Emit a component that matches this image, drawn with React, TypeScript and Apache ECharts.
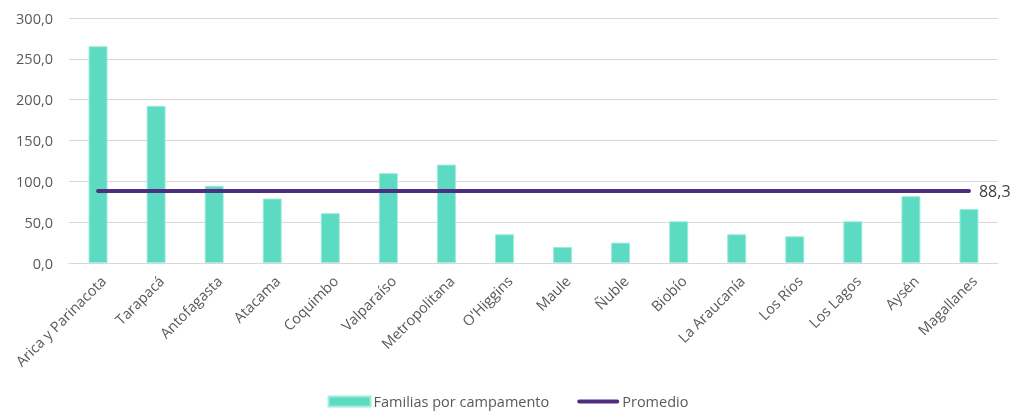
import React, { useEffect, useRef } from "react";
import * as echarts from "echarts";

const categories = [
  "Arica y Parinacota", "Tarapacá", "Antofagasta", "Atacama", "Coquimbo", "Valparaíso",
  "Metropolitana", "O'Higgins", "Maule", "Ñuble", "Biobío", "La Araucanía", "Los Ríos",
  "Los Lagos", "Aysén", "Magallanes",
];
const familias = [265.5, 192.5, 94.5, 79.0, 61.0, 110.0, 120.5, 35.2, 19.6, 25.0, 51.1, 35.2, 32.7, 51.1, 81.8, 66.2];
const promedio = 88.3;
const promedioSeries = categories.map(() => promedio);
const yTicks = { min: 0, max: 300, interval: 50 };

const fmt = (v: number) => v.toFixed(1).replace(".", ",");

export default function App() {
  const ref = useRef<HTMLDivElement>(null);
  useEffect(() => {
    document.body.style.margin = "0";
    const chart = echarts.init(ref.current!, null, { renderer: "svg" });
    const font = "'Open Sans', sans-serif";
    chart.setOption({
      animation: false,
      textStyle: { fontFamily: font },
      grid: { left: 69, right: 18, top: 18, bottom: 152, containLabel: false },
      legend: {
        bottom: 1,
        left: "center",
        itemWidth: 42,
        itemHeight: 10,
        itemGap: 28,
        symbolKeepAspect: true,
        textStyle: { fontFamily: font, fontSize: 14.5, color: "#595959", padding: [0, 0, 0, -2] },
        data: [
          { name: "Familias por campamento", icon: "rect" },
          {
            name: "Promedio",
            icon: "path://M2,0 L40,0 A2,2 0 0 1 40,4 L2,4 A2,2 0 0 1 2,0 Z",
            itemStyle: { color: "#4F2D7F" },
          },
        ],
      },
      xAxis: {
        type: "category",
        data: categories,
        axisLine: { lineStyle: { color: "#d9d9d9", width: 1 } },
        axisTick: { show: false },
        axisLabel: {
          rotate: 45,
          interval: 0,
          fontFamily: font,
          fontSize: 14.5,
          color: "#595959",
          margin: 10,
          verticalAlign: "top",
        },
      },
      yAxis: {
        type: "value",
        min: yTicks.min,
        max: yTicks.max,
        interval: yTicks.interval,
        axisLine: { show: false },
        axisTick: { show: false },
        splitLine: { lineStyle: { color: "#d9d9d9", width: 1 } },
        axisLabel: { formatter: (v: number) => fmt(v), fontFamily: font, fontSize: 14.5, color: "#595959", margin: 16 },
      },
      series: [
        {
          name: "Familias por campamento",
          type: "bar",
          data: familias,
          barWidth: 19,
          itemStyle: { color: "#5DDBC2", borderColor: "#9FEBDC", borderWidth: 1 },
        },
        {
          name: "Promedio",
          type: "line",
          data: promedioSeries,
          symbol: "none",
          showSymbol: false,
          lineStyle: { color: "#4F2D7F", width: 4, cap: "round" },
          itemStyle: { color: "#4F2D7F" },
          endLabel: {
            show: true,
            formatter: () => fmt(promedio),
            fontFamily: font,
            fontSize: 16,
            color: "#404040",
            distance: 10,
          },
        },
      ],
    });
    return () => chart.dispose();
  }, []);
  return <div ref={ref} style={{ position: "fixed", left: 0, top: 0, width: 1016, height: 415 }} />;
}
